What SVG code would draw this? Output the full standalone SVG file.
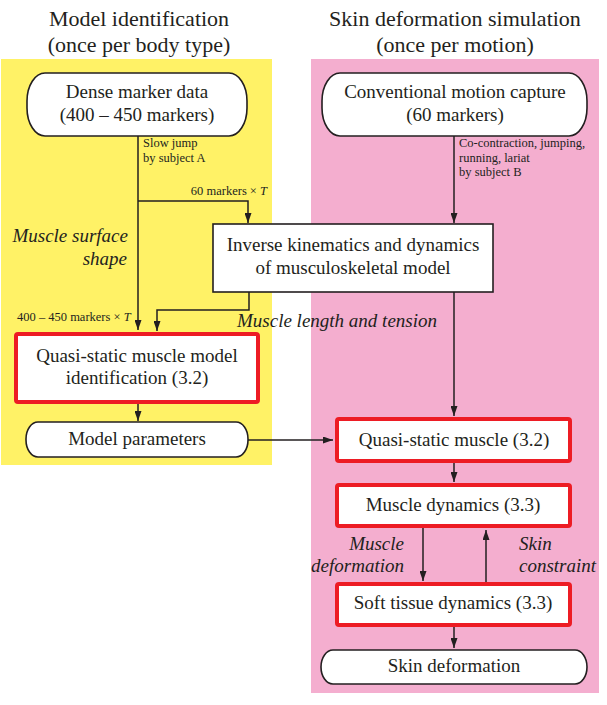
<svg xmlns="http://www.w3.org/2000/svg" width="607" height="705" viewBox="0 0 607 705">
<style>
text{font-family:"Liberation Serif","Times New Roman",serif;fill:#231f20}
.t{font-size:22px;text-anchor:middle}
.n{font-size:19px;text-anchor:middle}
.s{font-size:12.5px}
.i{font-size:19px;font-style:italic}
.box{fill:#fff;stroke:#231f20;stroke-width:1.6}
.red{fill:#fff;stroke:#ed1c24;stroke-width:4}
.c{fill:none;stroke:#231f20;stroke-width:1.5}
</style>
<defs>
<marker id="ah" viewBox="0 0 10 7" refX="10" refY="3.5" markerWidth="10" markerHeight="7" markerUnits="userSpaceOnUse" orient="auto"><path d="M0,0 L10,3.5 L0,7 z" fill="#231f20"/></marker>
</defs>
<rect x="1" y="59" width="271" height="406" fill="#fff266"/>
<rect x="311" y="59" width="288" height="634" fill="#f4aecf"/>
<g id="titles">
<text class="t" x="139" y="26">Model identification</text>
<text class="t" x="139" y="52">(once per body type)</text>
<text class="t" x="455" y="26">Skin deformation simulation</text>
<text class="t" x="455" y="52">(once per motion)</text>
</g>
<g id="connectors">
<path class="c" d="M138,136 V330" marker-end="url(#ah)"/>
<path class="c" d="M138,201 H248 V223" marker-end="url(#ah)"/>
<path class="c" d="M454,136 V223" marker-end="url(#ah)"/>
<path class="c" d="M249,292 V310 H157 V331" marker-end="url(#ah)"/>
<path class="c" d="M454,292 V416" marker-end="url(#ah)"/>
<path class="c" d="M138,404 V421" marker-end="url(#ah)"/>
<path class="c" d="M248,440 H333" marker-end="url(#ah)"/>
<path class="c" d="M454,463 V482" marker-end="url(#ah)"/>
<path class="c" d="M423,528 V581" marker-end="url(#ah)"/>
<path class="c" d="M486,582 V530" marker-end="url(#ah)"/>
<path class="c" d="M454,627 V648" marker-end="url(#ah)"/>
</g>
<g id="labels">
<text class="s" x="143" y="147">Slow jump</text>
<text class="s" x="143" y="162">by subject A</text>
<text class="s" x="267" y="195" text-anchor="end">60 markers × <tspan font-style="italic">T</tspan></text>
<text class="s" x="459" y="147">Co-contraction, jumping,</text>
<text class="s" x="459" y="161.5">running, lariat</text>
<text class="s" x="459" y="176">by subject B</text>
<text class="i" x="128" y="242" text-anchor="end">Muscle surface</text>
<text class="i" x="127" y="265" text-anchor="end">shape</text>
<text class="s" x="17" y="321">400 – 450 markers × <tspan font-style="italic">T</tspan></text>
<text class="i" x="237" y="327">Muscle length and tension</text>
<text class="i" x="404" y="550" text-anchor="end">Muscle</text>
<text class="i" x="404" y="572" text-anchor="end">deformation</text>
<text class="i" x="519" y="550">Skin</text>
<text class="i" x="519" y="572">constraint</text>
</g>
<g id="dense">
<rect class="box" x="27" y="73" width="220" height="63" rx="18" ry="28"/>
<text class="n" x="137" y="98">Dense marker data</text>
<text class="n" x="137" y="121">(400 – 450 markers)</text>
</g>
<g id="conventional">
<rect class="box" x="322" y="73" width="265" height="63" rx="18" ry="28"/>
<text class="n" x="455" y="98">Conventional motion capture</text>
<text class="n" x="455" y="121">(60 markers)</text>
</g>
<g id="ik">
<rect class="box" x="213" y="224" width="280" height="68"/>
<text class="n" x="353" y="251">Inverse kinematics and dynamics</text>
<text class="n" x="353" y="274">of musculoskeletal model</text>
</g>
<g id="qsmi">
<rect class="red" x="16" y="334" width="242" height="68" rx="2"/>
<text class="n" x="137" y="362">Quasi-static muscle model</text>
<text class="n" x="137" y="384">identification (3.2)</text>
</g>
<g id="params">
<rect class="box" x="26" y="422" width="222" height="35" rx="12" ry="17"/>
<text class="n" x="137" y="445">Model parameters</text>
</g>
<g id="qsm">
<rect class="red" x="337" y="419" width="233" height="42" rx="2"/>
<text class="n" x="454" y="446">Quasi-static muscle (3.2)</text>
</g>
<g id="md">
<rect class="red" x="337" y="485" width="233" height="41" rx="2"/>
<text class="n" x="453" y="511">Muscle dynamics (3.3)</text>
</g>
<g id="st">
<rect class="red" x="337" y="584" width="233" height="41" rx="2"/>
<text class="n" x="453" y="609">Soft tissue dynamics (3.3)</text>
</g>
<g id="skin">
<rect class="box" x="321" y="650" width="266" height="34" rx="12" ry="17"/>
<text class="n" x="454" y="672">Skin deformation</text>
</g>
</svg>
